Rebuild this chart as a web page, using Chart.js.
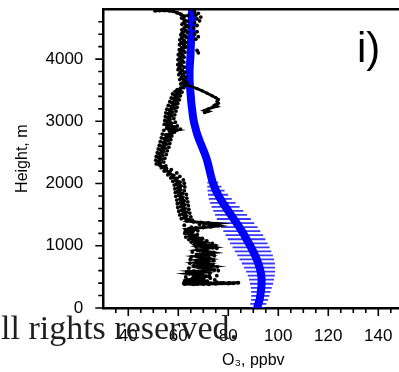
<!DOCTYPE html>
<html>
<head>
<meta charset="UTF-8">
<title>O3 profile</title>
<script src="https://cdn.jsdelivr.net/npm/chart.js"></script>
<style>
    html, body { margin: 0; padding: 0; background: #fff; overflow: hidden; }
    .wrap { position: relative; width: 399px; height: 372px; overflow: hidden; }
    canvas { position: absolute; left: 0; top: 0; }
    .panel {
        position: absolute; left: 357px; top: 27px;
        font: 42px/42px "Liberation Sans", Arial, sans-serif; color: #000;
    }
    .mark {
        position: absolute; left: 1px; top: 312px; white-space: nowrap;
        font: 34px/32px "Liberation Serif", "Times New Roman", serif; color: #1e1e1e;
    }
</style>
</head>
<body>
<div class="wrap">
    <canvas id="perfil" width="410" height="372"></canvas>
    <div class="panel">i)</div>
    <div class="mark">ll rights reserved.</div>
</div>
<script>
// axis ticks
const xTicks = [40, 60, 80, 100, 120, 140];
const yTicks = [0, 1000, 2000, 3000, 4000];

// model mean profile (blue)
const modelH = [0, 65, 130, 195, 260, 325, 390, 455, 520, 585, 650, 715, 780, 845, 910, 975,
    1040, 1105, 1170, 1235, 1300, 1365, 1430, 1495, 1560, 1625, 1690, 1755, 1820, 1885, 1950, 2015,
    2100, 2200, 2300, 2400, 2500, 2600, 2700, 2800, 2900, 3000, 3100, 3200, 3300, 3400, 3500,
    3600, 3700, 3800, 3900, 4000, 4100, 4200, 4300, 4400, 4500, 4600, 4700, 4800];
const modelO3 = [91.5, 92, 92.5, 92.8, 93, 93.2, 93.3, 93.3, 93.2, 92.9, 92.5, 92, 91.4, 90.7, 89.9, 89.1,
    88.2, 87.3, 86.4, 85.4, 84.4, 83.3, 82.2, 81.1, 80, 78.9, 77.8, 76.8, 75.9, 75.1, 74.4, 73.8,
    73.2, 72.6, 72, 71.3, 70.4, 69.4, 68.4, 67.5, 66.8, 66.2, 65.8, 65.5, 65.2, 65, 64.8,
    64.6, 64.5, 64.5, 64.6, 64.8, 64.9, 65, 65.1, 65.2, 65.3, 65.4, 65.5, 65.5];
// half spread of the model, lowest 32 levels
const modelErr = [3.0, 3.2, 3.4, 3.6, 3.9, 4.2, 4.6, 5.0, 5.4, 5.8, 6.2, 6.6, 6.9, 7.1, 7.3, 7.4,
    7.5, 7.5, 7.5, 7.4, 7.3, 7.1, 6.8, 6.4, 6.0, 5.6, 5.1, 4.6, 4.0, 3.4, 2.8, 2.2];

// observed profile (black), main trace
const obsO3 = [50.7, 52.5, 54.5, 56.5, 58, 59.5, 61, 62.5, 61.8, 62.6, 62.2, 63.2, 62.4, 62.9, 61.6, 62.6,
    61.4, 62.3, 61.2, 62.5, 61.4, 61.9, 60.8, 61.7, 60.7, 61.5, 60.6, 61.3, 60.4, 61.5, 60.8, 61.9, 61.3, 62.4,
    61.8, 62.9, 62.2, 60.9, 60.6, 59, 60.3, 58.6, 59.6, 58.2, 59.3, 57.5, 58.7, 57.2, 58.3, 56.4, 57.6, 56.1, 57.2,
    55.8, 56.6, 55.4, 57.2, 55.3, 58.3, 56.3, 59.4, 56.6, 57.3, 55, 56.2, 54.4, 55.7, 54, 55.1, 53.4, 54.6, 53,
    54.1, 52.4, 53.6, 52.1, 53.3, 52.2, 52.8, 52.4, 53.8, 55.2, 54.6, 56.6, 56.2, 58.1, 57.6, 59.4, 58.8, 60.6, 59.3,
    61, 59.8, 60.8, 59.7, 61.6, 60.2, 61.7, 60.7, 62.2, 60.8, 62.4, 61.1, 62.6, 61.4, 63.1, 61.8, 63.2, 62.3,
    64.2, 63.4, 66, 69, 72, 75.5, 73, 76, 73, 70, 67, 64.2, 66, 63.8, 65.2, 64.3, 66.2, 64.8, 67.4, 65.8,
    68.6, 66.9, 70.4, 68.3, 72.4, 69.2, 73.8, 70.6, 67.8, 71.6, 74.2, 69.8, 72.1, 67.2, 70.3, 72.6, 68.1, 71.2, 67.3,
    71.5, 68.7, 73.4, 68.2, 70.8, 74.5, 66.1, 69.6, 64.3, 68.2, 72.4, 66, 70.2, 63.2, 67.3, 71.6, 65, 62.4, 65,
    69, 73, 77, 80.5, 84, 80, 75, 70, 66, 62.5];
const obsH = [4775, 4782, 4780, 4776, 4768, 4745, 4720, 4690, 4655, 4620, 4580, 4540, 4500, 4460,
    4420, 4380, 4340, 4300, 4260, 4220, 4180, 4140, 4100, 4060, 4020, 3980, 3940, 3900, 3860, 3820,
    3780, 3740, 3700, 3660, 3620, 3590, 3560, 3530, 3500, 3480, 3450, 3420, 3390, 3360, 3330, 3300,
    3270, 3240, 3210, 3180, 3150, 3120, 3090, 3060, 3030, 3000, 2970, 2940, 2910, 2880, 2860, 2840,
    2810, 2780, 2750, 2720, 2690, 2660, 2630, 2600, 2570, 2540, 2510, 2480, 2450, 2420, 2390, 2360,
    2330, 2300, 2270, 2240, 2210, 2190, 2160, 2130, 2100, 2080, 2050, 2020, 1990, 1960, 1930, 1900,
    1870, 1840, 1810, 1780, 1750, 1720, 1690, 1660, 1630, 1600, 1570, 1540, 1510, 1480, 1450, 1420,
    1400, 1385, 1375, 1365, 1355, 1340, 1320, 1305, 1295, 1285, 1270, 1250, 1230, 1210, 1190, 1170,
    1150, 1130, 1110, 1090, 1070, 1050, 1030, 1010, 990, 970, 950, 930, 910, 890, 870, 850, 830, 810,
    790, 770, 750, 730, 710, 690, 670, 650, 630, 610, 590, 570, 550, 530, 510, 490, 470, 455, 440,
    430, 420, 410, 400, 396, 398, 400, 402, 404, 392, 388, 385, 380, 385];

// observed, loose samples around the main trace
const scatterO3 = [63.8, 61.3, 63.5, 61.5, 63.8, 61.4, 63.6, 61, 63.2, 60.6, 62.9, 60.5, 62.8, 60.4, 62.6, 60,
    62.3, 59.9, 62.2, 59.8, 62.4, 59.9, 62.6, 60.2, 63, 60.6, 63.4, 61,
    62.2, 59.6, 61.5, 57.7, 60.8, 57.2, 60.4, 56.6, 59.8, 56, 59.5, 55.4, 59.1, 55, 58.6, 54.8, 58.2, 54.6,
    58.8, 54.4, 59.6, 55.4, 60.8, 54.2, 58.4, 53.6, 57.4, 53.2, 57, 52.8, 56.6, 52.4, 56.2, 52, 55.6, 51.6,
    55.2, 51.2, 54.6, 51, 54.2, 51.2, 55, 53.2, 57.2, 54.4, 59.4, 55.8, 60.6, 57, 62, 57.8, 62.4, 58.4,
    62.6, 58.6, 62.4, 58.8, 63.2, 59, 63.4, 59.4, 63.8, 59.6, 64, 59.8, 64.2, 60.2, 64.6, 60.6, 65, 61.2, 65.6,
    62.4, 68.5, 74.6, 70.2, 65.2, 62.8, 67.8, 62.6, 67.6, 63, 69.6, 64.2, 71.4, 65.2, 73.6, 66.4, 75, 67.2,
    75.4, 68.6, 65.6, 73.4, 67.4, 74.4, 65.2, 71.8, 64.8, 74.2, 69.4, 64.6, 73.8, 66.2, 75.6, 64.2, 72.4,
    76, 63.4, 72.6, 66.4, 75.4, 63, 72.8, 65.4, 74.6, 62.6, 70, 75.4, 62.2, 67.5, 72.2, 78, 82];
const scatterH = [4700, 4660, 4610, 4560, 4520, 4470, 4430, 4390, 4350, 4310, 4270, 4230, 4190, 4150, 4110, 4070,
    4030, 3990, 3950, 3910, 3870, 3830, 3790, 3750, 3710, 3670, 3630, 3600,
    3540, 3510, 3470, 3440, 3410, 3375, 3345, 3315, 3285, 3255, 3225, 3195, 3165, 3135, 3105, 3075, 3045, 3015,
    2985, 2955, 2925, 2895, 2875, 2855, 2825, 2795, 2765, 2735, 2705, 2675, 2645, 2615, 2585, 2555, 2525, 2495,
    2465, 2435, 2405, 2375, 2345, 2315, 2285, 2255, 2225, 2200, 2170, 2140, 2115, 2090, 2060, 2035, 2005, 1975,
    1945, 1915, 1885, 1855, 1825, 1795, 1765, 1735, 1705, 1675, 1645, 1615, 1585, 1555, 1525, 1495, 1465, 1435, 1410,
    1330, 1345, 1330, 1318, 1300, 1260, 1240, 1200, 1180, 1140, 1120, 1100, 1080, 1060, 1040, 1020, 1000, 980,
    960, 920, 900, 880, 860, 840, 820, 800, 780, 760, 740, 720, 700, 680, 660, 640, 620,
    600, 580, 560, 540, 520, 500, 480, 465, 450, 440, 425, 415, 395, 385, 380, 405, 398];

// observed, loop to the right near 3.3 km
const loopO3 = [63.5, 65.5, 67.5, 69.5, 71.5, 73.5, 75, 76, 75.5, 76, 74.5, 75.5, 73.5, 72, 70.5, 72, 70.5];
const loopH = [3580, 3555, 3525, 3490, 3450, 3410, 3380, 3350, 3320, 3290, 3260, 3240, 3220, 3200, 3175, 3160, 3140];

// observed, points right of the model near the top
const topO3 = [66.5, 68, 67, 69, 67.5, 68.5, 66.5, 67.5, 66, 67.5, 66.5, 68, 67, 67.5, 68];
const topH = [4760, 4735, 4705, 4675, 4645, 4615, 4585, 4540, 4500, 4440, 4400, 4360, 4320, 4140, 4100];

const fontName = '"Liberation Sans", Arial, sans-serif';

function pares(xs, ys) {
    return xs.map((v, i) => ({ x: v, y: ys[i] }));
}

const barras = [];
modelErr.forEach((e, i) => {
    barras.push({ x: modelO3[i] - e, y: modelH[i] });
    barras.push({ x: modelO3[i] + e, y: modelH[i] });
    barras.push({ x: NaN, y: NaN });
});

// tick marks (major longer than minor) and top frame line
const marcas = {
    id: 'marcas',
    afterDraw(chart) {
        const ctx = chart.ctx;
        const xs = chart.scales.x, ys = chart.scales.y;
        const area = chart.chartArea;
        ctx.save();
        ctx.strokeStyle = '#000';
        ctx.lineWidth = 1.6;
        ctx.beginPath();
        for (let v = 35; v <= 150; v += 5) {
            const px = xs.getPixelForValue(v);
            const len = xTicks.includes(v) ? 8 : 5;
            ctx.moveTo(px, area.bottom);
            ctx.lineTo(px, area.bottom + len);
        }
        for (let h = 0; h < 4800; h += 200) {
            const py = ys.getPixelForValue(h);
            const len = yTicks.includes(h) ? 8 : 5;
            ctx.moveTo(area.left, py);
            ctx.lineTo(area.left - len, py);
        }
        ctx.stroke();
        ctx.lineWidth = 2.5;
        ctx.beginPath();
        ctx.moveTo(area.left - 1, area.top);
        ctx.lineTo(area.right, area.top);
        ctx.stroke();
        ctx.restore();
    }
};

const puntoNegro = { pointBackgroundColor: '#000', pointBorderWidth: 0 };

new Chart(document.getElementById('perfil'), {
    type: 'scatter',
    data: {
        datasets: [
            Object.assign({ data: pares(obsO3, obsH), showLine: true, borderColor: '#000', borderWidth: 3,
                pointRadius: 2 }, puntoNegro),
            Object.assign({ data: pares(scatterO3, scatterH), showLine: false, pointRadius: 1.9 }, puntoNegro),
            Object.assign({ data: pares(loopO3, loopH), showLine: true, borderColor: '#000', borderWidth: 2.8,
                pointRadius: 1.7 }, puntoNegro),
            Object.assign({ data: pares(topO3, topH), showLine: false, pointRadius: 1.9 }, puntoNegro),
            {
                data: pares(modelO3, modelH), showLine: true, borderColor: '#0000ff', borderWidth: 8,
                tension: 0.3, pointRadius: 0
            },
            {
                data: barras, showLine: true, spanGaps: false, borderColor: 'rgba(20,20,255,0.85)',
                borderWidth: 1.8, pointRadius: 0
            }
        ]
    },
    options: {
        responsive: false,
        animation: false,
        devicePixelRatio: 1,
        layout: { padding: { top: 9.3, right: 6.7, left: 0, bottom: 0 } },
        plugins: { legend: { display: false }, tooltip: { enabled: false } },
        scales: {
            x: {
                type: 'linear', min: 30, max: 150,
                afterBuildTicks: s => { s.ticks = xTicks.map(v => ({ value: v })); },
                afterFit: s => { s.height = 64; s.paddingLeft = 0; s.paddingRight = 0; },
                grid: { display: false, drawTicks: false },
                border: { display: true, color: '#000', width: 2.5 },
                ticks: { padding: 18, color: '#000', autoSkip: false, maxRotation: 0,
                    callback: v => String(v),
                    font: { family: fontName, size: 17 } },
                title: { display: true, text: 'O₃, ppbv', color: '#000',
                    font: { family: fontName, size: 16 }, padding: { top: 0, bottom: 1.5 } }
            },
            y: {
                type: 'linear', min: 0, max: 4800,
                afterBuildTicks: s => { s.ticks = yTicks.map(v => ({ value: v })); },
                afterFit: s => { s.width = 103.3; s.paddingTop = 0; s.paddingBottom = 0; },
                grid: { display: false, drawTicks: false },
                border: { display: true, color: '#000', width: 2.5 },
                ticks: { padding: 20, color: '#000', callback: v => String(v),
                    font: { family: fontName, size: 17 } },
                title: { display: true, text: 'Height, m', color: '#000',
                    font: { family: fontName, size: 16 }, padding: { top: 13.4, bottom: 0 } }
            }
        }
    },
    plugins: [marcas]
});
</script>
</body>
</html>
